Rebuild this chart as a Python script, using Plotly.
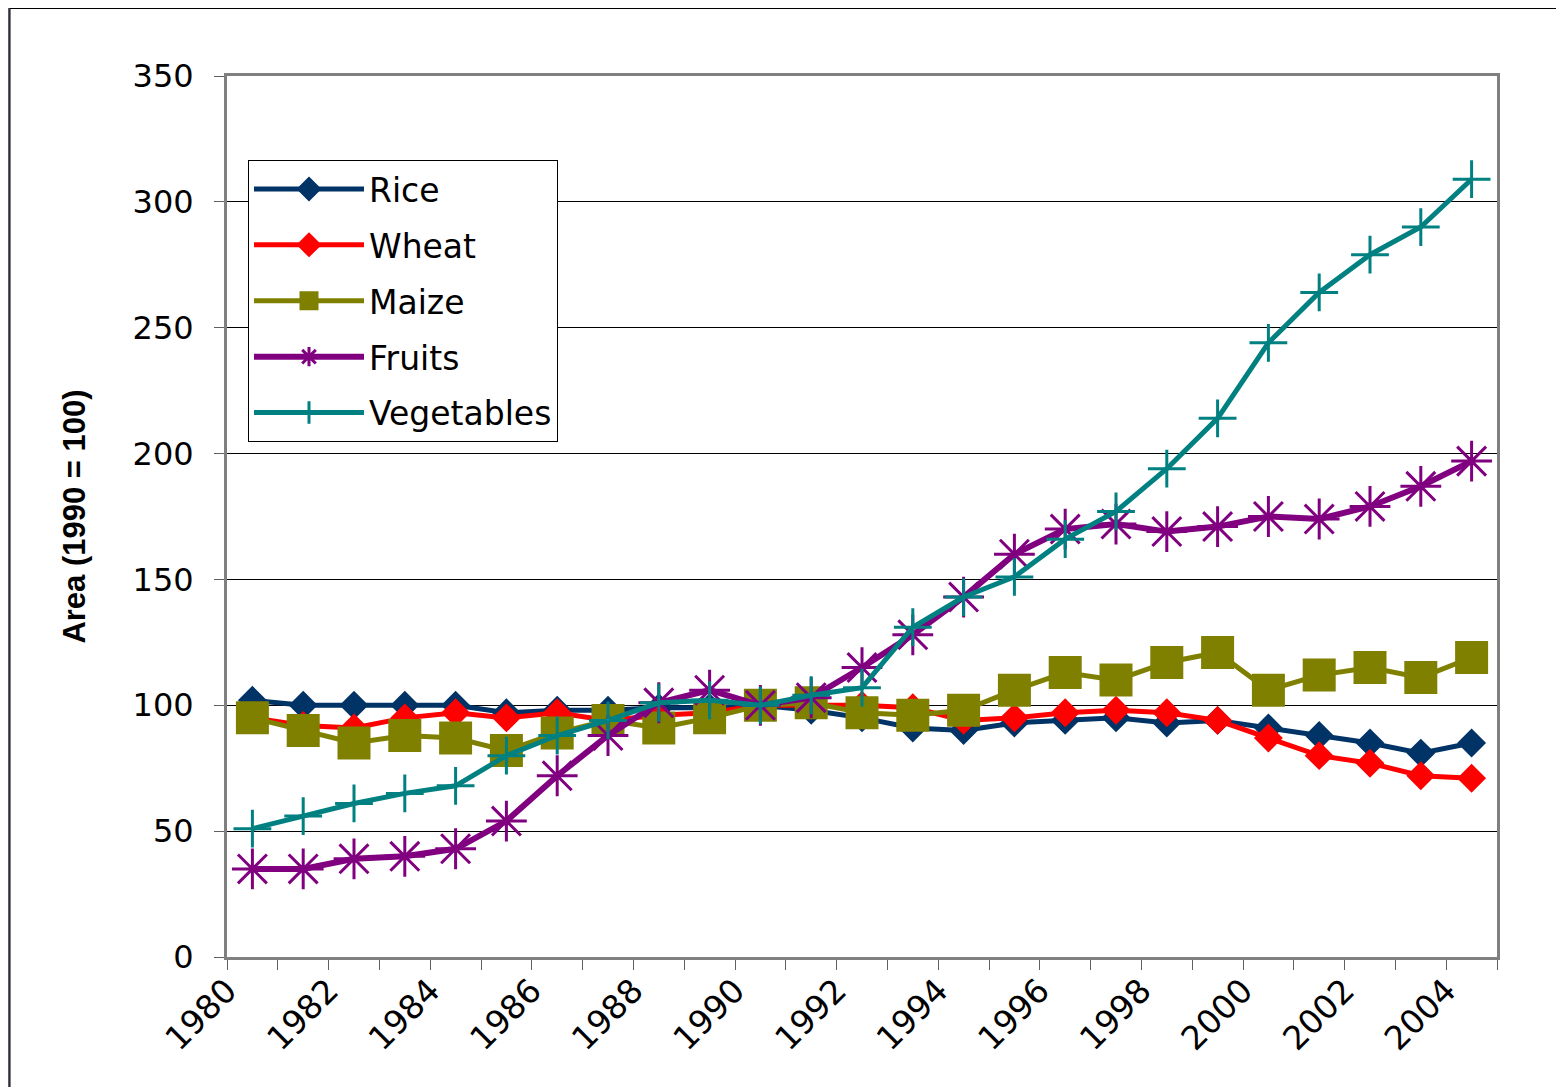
import plotly.graph_objects as go

years = list(range(1980, 2005))
label_years = list(range(1980, 2005, 2))

rice = [102, 100, 100, 100, 100, 97, 98, 98, 99, 99, 100, 98, 95, 91, 90, 93, 94, 95, 93, 94, 91, 88, 85, 81, 85]
wheat = [95, 92, 91, 95, 97, 95, 97, 94, 96, 97, 100, 100, 100, 99, 94, 95, 97, 98, 97, 94, 87, 80, 77, 72, 71]
maize = [95, 90, 85, 88, 87, 82, 89, 94, 91, 95, 100, 101, 97, 96, 98, 106, 113, 110, 117, 121, 106, 112, 115, 111, 119]
fruits = [35, 35, 39, 40, 43, 54, 72, 88, 101, 106, 100, 103, 115, 128, 143, 160, 170, 172, 169, 171, 175, 174, 179, 187, 197]
vegetables = [51, 56, 61, 65, 68, 80, 88, 94, 101, 102, 100, 104, 107, 131, 143, 151, 166, 177, 194, 214, 244, 264, 279, 290, 309]

FONT = "DejaVu Sans, Arial, sans-serif"
TITLE_FONT = "Liberation Sans, Arial, sans-serif"

series = [
    ("Rice", rice, "#003366", "diamond", 19, 5),
    ("Wheat", wheat, "#FF0000", "diamond", 19, 5),
    ("Maize", maize, "#808000", "square", 30, 5),
    ("Fruits", fruits, "#800080", "asterisk-open", 34, 6),
    ("Vegetables", vegetables, "#008080", "cross-thin-open", 27, 5),
]

fig = go.Figure()
for name, vals, color, symbol, size, width in series:
    fig.add_trace(
        go.Scatter(
            x=years,
            y=vals,
            mode="lines+markers",
            name=name,
            legendgroup=name,
            line={"color": color, "width": width},
            marker={
                "symbol": symbol,
                "size": size,
                "color": color,
                "line": {"color": color, "width": 3},
            },
        )
    )

# tick marks sit between categories; labels on every other boundary
tick_pos = [y - 0.5 for y in years] + [years[-1] + 0.5]
tick_txt = [str(y) if y in label_years else "" for y in years] + [""]

# page body adds an 8px offset, so the figure is sized/margined to compensate
L, R, T, B = 219, 67, 68, 130
W, H = 1556, 1079
pw, ph = W - L - R, H - T - B

# white panel on the dark frame
fig.add_shape(
    type="rect",
    xref="paper",
    yref="paper",
    x0=(2 - L) / pw,
    x1=(W + 20 - L) / pw,
    y0=(H - B - (H + 20)) / ph,
    y1=(H - B - 0.5) / ph,
    fillcolor="white",
    line={"color": "black", "width": 1},
    layer="below",
)

fig.update_layout(
    width=W,
    height=H,
    margin={"l": L, "r": R, "t": T, "b": B},
    paper_bgcolor="#5a5c6e",
    plot_bgcolor="white",
    font={"family": FONT, "color": "black", "size": 30},
    showlegend=True,
    legend={
        "x": (240 - L) / pw,
        "y": (H - B - 152) / ph,
        "xanchor": "left",
        "yanchor": "top",
        "bgcolor": "white",
        "bordercolor": "black",
        "borderwidth": 1,
        "font": {"family": FONT, "size": 33, "color": "black"},
        "itemwidth": 110,
        "entrywidth": 200,
        "entrywidthmode": "pixels",
        "tracegroupgap": 10,
    },
)

fig.update_xaxes(
    range=[years[0] - 0.5, years[-1] + 0.5],
    tickmode="array",
    tickvals=tick_pos,
    ticktext=tick_txt,
    tickangle=-45,
    ticks="outside",
    ticklen=10,
    tickcolor="#606060",
    tickfont={"family": FONT, "size": 33},
    ticklabelstandoff=-12,
    showgrid=False,
    zeroline=False,
    showline=True,
    linecolor="#808080",
    linewidth=3,
    mirror=True,
)

fig.update_yaxes(
    range=[0, 350],
    dtick=50,
    ticks="outside",
    ticklen=10,
    tickcolor="#606060",
    tickfont={"family": FONT, "size": 32},
    ticklabelstandoff=14,
    showgrid=True,
    gridcolor="black",
    gridwidth=1,
    zeroline=False,
    showline=True,
    linecolor="#808080",
    linewidth=3,
    mirror=True,
    title={
        "text": "<b>Area (1990 = 100)</b>",
        "font": {"family": TITLE_FONT, "size": 31},
        "standoff": 38,
    },
)

fig.write_html("out.html")
